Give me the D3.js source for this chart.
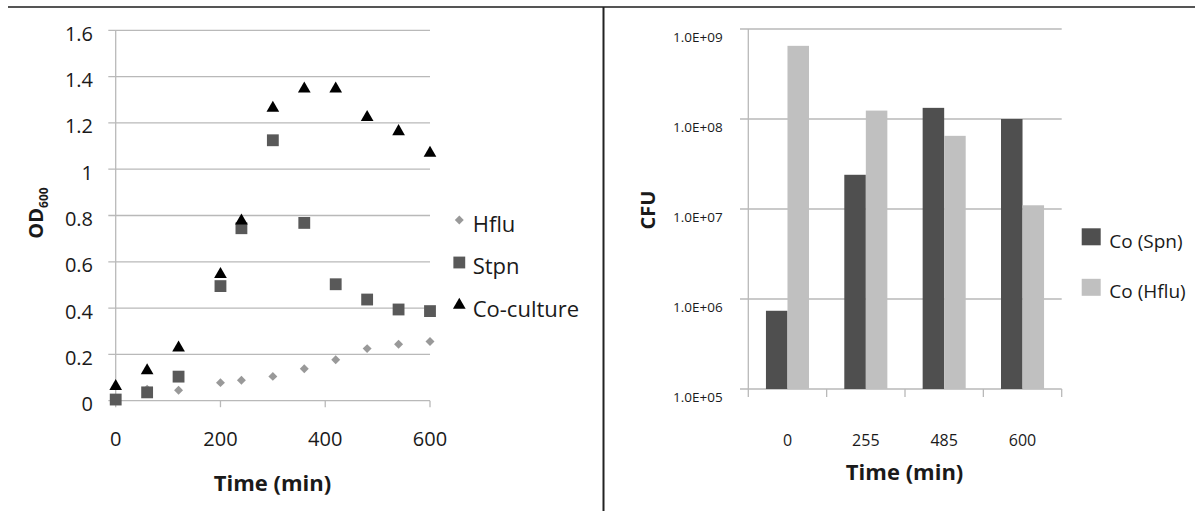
<!DOCTYPE html>
<html lang="en">
<head>
    <meta charset="UTF-8">
    <script src="https://d3js.org/d3.v7.min.js"></script>
    <title>Growth curves and CFU</title>
    <style>
        body { margin: 0; background: #fff; }
        text { font-family: "Open Sans", sans-serif; fill: #1a1a1a; }
    </style>
</head>
<body>
    <div id="chart"></div>
    <script>
        // left panel: OD600 over time
        const times = [0, 60, 120, 200, 240, 300, 360, 420, 480, 540, 600];
        const hflu = [0.01, 0.05, 0.045, 0.078, 0.088, 0.105, 0.138, 0.177, 0.225, 0.244, 0.256];
        const stpn = [0.005, 0.036, 0.104, 0.495, 0.745, 1.125, 0.768, 0.503, 0.437, 0.394, 0.387];
        const coculture = [0.062, 0.13, 0.228, 0.546, 0.777, 1.264, 1.347, 1.347, 1.224, 1.163, 1.07];
        const odTicks = [0, 0.2, 0.4, 0.6, 0.8, 1, 1.2, 1.4, 1.6];
        const timeTicks = [0, 200, 400, 600];

        // right panel: CFU per time point
        const cfuTimes = ["0", "255", "485", "600"];
        const coSpn = [7.4e5, 2.4e7, 1.33e8, 1.0e8];
        const coHflu = [6.5e8, 1.24e8, 6.5e7, 1.1e7];
        const cfuTicks = [1e5, 1e6, 1e7, 1e8, 1e9];

        const width = 1195, height = 511;
        const gridColor = "#b9b9b9";

        const svg = d3.select("#chart").append("svg")
            .attr("width", width)
            .attr("height", height);

        // frame lines
        svg.append("line").attr("x1", 8).attr("x2", width).attr("y1", 7).attr("y2", 7)
            .attr("stroke", "#555").attr("stroke-width", 2);
        svg.append("line").attr("x1", 603.5).attr("x2", 603.5).attr("y1", 7).attr("y2", height)
            .attr("stroke", "#222").attr("stroke-width", 2);

        // ---------- left scatter ----------
        const x = d3.scaleLinear().domain([0, 600]).range([115.7, 430]);
        const y = d3.scaleLinear().domain([0, 1.6]).range([400.7, 30.3]);

        svg.append("g").selectAll("line")
            .data(odTicks)
            .enter().append("line")
            .attr("x1", 108.3).attr("x2", x(600))
            .attr("y1", d => y(d)).attr("y2", d => y(d))
            .attr("stroke", gridColor).attr("stroke-width", 1.3);

        svg.append("line").attr("x1", x(0)).attr("x2", x(0))
            .attr("y1", y(1.6)).attr("y2", y(0))
            .attr("stroke", gridColor).attr("stroke-width", 1.3);

        svg.append("g").selectAll("line")
            .data(timeTicks)
            .enter().append("line")
            .attr("x1", d => x(d)).attr("x2", d => x(d))
            .attr("y1", y(0)).attr("y2", y(0) + 6.5)
            .attr("stroke", gridColor).attr("stroke-width", 1.3);

        svg.append("g").selectAll("text")
            .data(odTicks)
            .enter().append("text")
            .attr("x", 93).attr("y", d => y(d) + 10.5)
            .attr("text-anchor", "end")
            .attr("font-size", "20px")
            .text(d => d);

        svg.append("g").selectAll("text")
            .data(timeTicks)
            .enter().append("text")
            .attr("x", d => x(d)).attr("y", 446)
            .attr("text-anchor", "middle")
            .attr("font-size", "20px")
            .text(d => d);

        const leftSeries = [
            { name: "Hflu", values: hflu, color: "#999999", symbol: d3.symbolSquare, size: 40, rotate: 45 },
            { name: "Stpn", values: stpn, color: "#595959", symbol: d3.symbolSquare, size: 140, rotate: 0 },
            { name: "Co-culture", values: coculture, color: "#000000", symbol: d3.symbolTriangle, size: 70, rotate: 0 }
        ];

        leftSeries.forEach(s => {
            svg.append("g").selectAll("path")
                .data(s.values)
                .enter().append("path")
                .attr("d", d3.symbol().type(s.symbol).size(s.size))
                .attr("transform", (d, i) => `translate(${x(times[i])},${y(d)}) rotate(${s.rotate})`)
                .attr("fill", s.color);
        });

        const legendLeft = svg.append("g");
        leftSeries.forEach((s, i) => {
            const cy = 220 + i * 42.5;
            legendLeft.append("path")
                .attr("d", d3.symbol().type(s.symbol).size(s.size))
                .attr("transform", `translate(459.3,${cy}) rotate(${s.rotate})`)
                .attr("fill", s.color);
            legendLeft.append("text")
                .attr("x", 472.7).attr("y", cy + 4 + 7.9)
                .attr("font-size", "22px")
                .text(s.name);
        });

        svg.append("text")
            .attr("x", 272.5).attr("y", 491)
            .attr("text-anchor", "middle")
            .attr("font-size", "22px")
            .attr("font-weight", "bold")
            .text("Time (min)");

        const odLabel = svg.append("text")
            .attr("transform", "translate(43,213) rotate(-90)")
            .attr("text-anchor", "middle")
            .attr("font-size", "20px")
            .attr("font-weight", "bold");
        odLabel.append("tspan").text("OD");
        odLabel.append("tspan").attr("font-size", "12px").attr("dy", 5).text("600");

        // ---------- right bar chart ----------
        const x0 = d3.scaleBand().domain(cfuTimes).range([748.3, 1061.7]).padding(0);
        const x1 = d3.scaleBand().domain(["spn", "hflu"]).range([0, x0.bandwidth()])
            .paddingInner(0).paddingOuter(0.82);
        const yLog = d3.scaleLog().domain([1e5, 1e9]).range([389, 29]);

        svg.append("g").selectAll("line")
            .data(cfuTicks)
            .enter().append("line")
            .attr("x1", 740).attr("x2", 1061.7)
            .attr("y1", d => yLog(d)).attr("y2", d => yLog(d))
            .attr("stroke", gridColor).attr("stroke-width", 1.3);

        svg.append("line").attr("x1", 748.3).attr("x2", 748.3)
            .attr("y1", yLog(1e9)).attr("y2", 397)
            .attr("stroke", gridColor).attr("stroke-width", 1.3);

        const sepTicks = cfuTimes.slice(1).map(c => x0(c)).concat([1061.7]);
        svg.append("g").selectAll("line")
            .data(sepTicks)
            .enter().append("line")
            .attr("x1", d => d).attr("x2", d => d)
            .attr("y1", yLog(1e5)).attr("y2", 397)
            .attr("stroke", gridColor).attr("stroke-width", 1.3);

        svg.append("g").selectAll("text")
            .data(cfuTicks)
            .enter().append("text")
            .attr("x", 722.7).attr("y", d => yLog(d) + 13.2)
            .attr("text-anchor", "end")
            .attr("font-size", "13.5px")
            .text(d => "1.0E+" + String(Math.round(Math.log10(d))).padStart(2, "0"));

        svg.append("g").selectAll("text")
            .data(cfuTimes)
            .enter().append("text")
            .attr("x", d => x0(d) + x0.bandwidth() / 2).attr("y", 445.5)
            .attr("text-anchor", "middle")
            .attr("font-size", "16px")
            .text(d => d);

        const barSeries = [
            { key: "spn", name: "Co (Spn)", values: coSpn, color: "#4f4f4f" },
            { key: "hflu", name: "Co (Hflu)", values: coHflu, color: "#c0c0c0" }
        ];

        barSeries.forEach(s => {
            svg.append("g").selectAll("rect")
                .data(s.values)
                .enter().append("rect")
                .attr("x", (d, i) => x0(cfuTimes[i]) + x1(s.key))
                .attr("y", d => yLog(d))
                .attr("width", x1.bandwidth())
                .attr("height", d => yLog(1e5) - yLog(d))
                .attr("fill", s.color);
        });

        const legendRight = svg.append("g");
        barSeries.forEach((s, i) => {
            const top = 228.3 + i * 50.5;
            legendRight.append("rect")
                .attr("x", 1081.7).attr("y", top)
                .attr("width", 19).attr("height", 17)
                .attr("fill", s.color);
            legendRight.append("text")
                .attr("x", 1109.3).attr("y", top + 19.2)
                .attr("font-size", "19px")
                .text(s.name);
        });

        svg.append("text")
            .attr("x", 904.6).attr("y", 480)
            .attr("text-anchor", "middle")
            .attr("font-size", "22px")
            .attr("font-weight", "bold")
            .text("Time (min)");

        svg.append("text")
            .attr("transform", "translate(655,210) rotate(-90)")
            .attr("text-anchor", "middle")
            .attr("font-size", "20px")
            .attr("font-weight", "bold")
            .text("CFU");
    </script>
</body>
</html>
